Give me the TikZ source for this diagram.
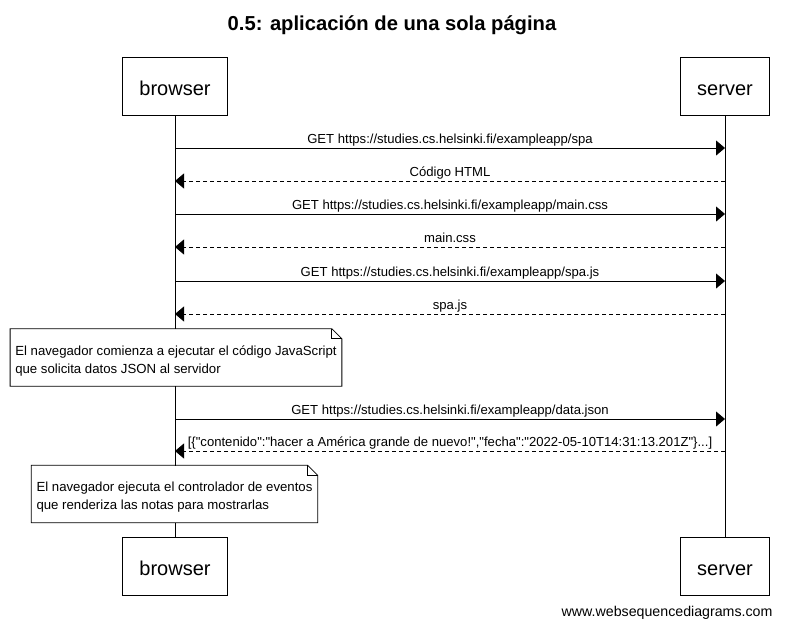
\documentclass[tikz,border=0pt]{standalone}
\usepackage{fontspec}
\setmainfont{Liberation Sans}
\usetikzlibrary{arrows.meta, positioning, calc}

\tikzset{
  actor/.style={draw, fill=white, line width=0.8pt, inner xsep=17pt, minimum height=58pt, text height=19.5pt, text depth=0pt, font=\fontsize{20}{24}\selectfont},
  lifeline/.style={line width=0.8pt},
  msg/.style={-{Triangle[length=9pt,width=15pt]}, line width=0.8pt},
  reply/.style={msg, dash pattern=on 4pt off 3pt},
  msglabel/.style={font=\fontsize{13.1}{15}\selectfont, above=1.5pt, inner sep=0pt, text height=10pt, text depth=3pt},
  notebox/.style={fill=white, align=left, inner xsep=5pt, minimum height=57pt, font=\fontsize{13.2}{18}\selectfont},
  fold/.style={line width=0.8pt}
}

\begin{document}
\begin{tikzpicture}[x=1pt, y=-1pt]
  \useasboundingbox (0,0) rectangle (785,629);
  \node[font=\bfseries\fontsize{20.2}{24}\selectfont] (title) at (392,25) {0.5: aplicación de una sola página};
  % participants
  \node[actor] (bt) at (175,86) {browser};
  \node[actor] (st) at (725,86) {server};
  \node[actor] (bb) at (175,566) {browser};
  \node[actor] (sb) at (725,566) {server};
  \draw[lifeline] (bt) -- (bb);
  \draw[lifeline] (st) -- (sb);
  % messages
  \foreach \y/\from/\to/\kind/\txt [count=\i] in {
      148/b/s/msg/{GET https://studies.cs.helsinki.fi/exampleapp/spa},
      181/s/b/reply/{Código HTML},
      214/b/s/msg/{GET https://studies.cs.helsinki.fi/exampleapp/main.css},
      247/s/b/reply/{main.css},
      281/b/s/msg/{GET https://studies.cs.helsinki.fi/exampleapp/spa.js},
      314/s/b/reply/{spa.js},
      419/b/s/msg/{GET https://studies.cs.helsinki.fi/exampleapp/data.json},
      451/s/b/reply/{[\{\textquotedbl contenido\textquotedbl:\textquotedbl hacer a América grande de nuevo!\textquotedbl,\textquotedbl fecha\textquotedbl:\textquotedbl 2022-05-10T14:31:13.201Z\textquotedbl\}...]}} {
    \coordinate (b\i) at (bt |- 0,\y);
    \coordinate (s\i) at (st |- 0,\y);
    \draw[\kind] (\from\i) -- node[msglabel] {\txt} (\to\i);
  }
  % notes
  \node[notebox] (n1) at (176,357.5) {\rule{0pt}{16.5pt}El navegador comienza a ejecutar el código JavaScript\\que solicita datos JSON al servidor};
  \node[notebox] (n2) at (174.5,494) {\rule{0pt}{16.5pt}El navegador ejecuta el controlador de eventos\\que renderiza las notas para mostrarlas};
  \foreach \n in {n1, n2} {
    \draw[fold] (\n.north west) -- ([xshift=-10pt]\n.north east) -- ([yshift=-10pt]\n.north east)
      -- (\n.south east) -- (\n.south west) -- cycle;
    \draw[fold] ([xshift=-10pt]\n.north east) |- ([yshift=-10pt]\n.north east);
  }
  \node[anchor=east, font=\fontsize{14.2}{16}\selectfont] (wsd) at (776,613) {www.websequencediagrams.com};
\end{tikzpicture}
\end{document}
